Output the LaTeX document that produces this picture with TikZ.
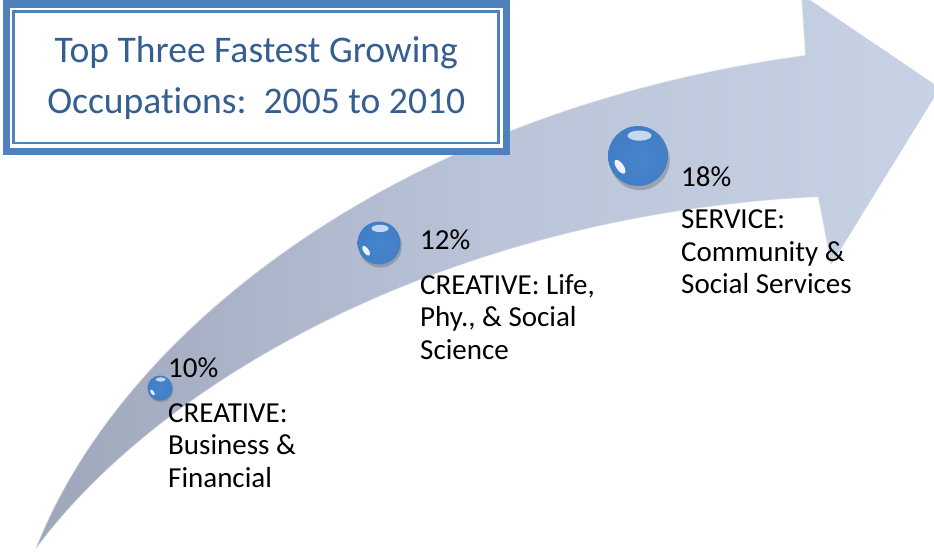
\documentclass[tikz,border=0pt]{standalone}
\usepackage{fontspec}
\setmainfont{Carlito}[Ligatures=NoCommon]
\usetikzlibrary{calc}
\definecolor{boxblue}{RGB}{79,129,189}
\definecolor{titleblue}{RGB}{54,95,145}
\definecolor{arrowdark}{RGB}{158,166,186}
\definecolor{arrowmid}{RGB}{186,196,216}
\definecolor{arrowlight}{RGB}{200,210,229}
\definecolor{balldark}{RGB}{36,86,156}
\definecolor{ballmid}{RGB}{70,132,204}
\pgfdeclareradialshading{glossy}{\pgfpoint{3bp}{-4bp}}{color(0bp)=(ballmid); color(30bp)=(ballmid!85!balldark); color(46bp)=(balldark); color(50bp)=(balldark)}
\newcommand\myTitleFont{\fontsize{37.6}{51}\selectfont}
\newcommand\myLabelFont{\fontsize{29}{32.5}\selectfont}
\newcommand\mkball[4]{%
  \fill[black!55!arrowdark, opacity=0.3] (#2+0.06*#4,#3+0.14*#4) circle[radius=#4];
  \node[glossball, minimum size={2*#4pt}] (#1) at (#2,#3) {};
  \fill[white, opacity=0.7] (#2+0.05*#4,#3-0.68*#4) ellipse[x radius=0.4*#4, y radius=0.17*#4];
  \fill[white, opacity=0.9, rotate around={35:(#2-0.6*#4,#3+0.36*#4)}] (#2-0.6*#4,#3+0.36*#4) ellipse[x radius=0.12*#4, y radius=0.27*#4];
}
\begin{document}
\begin{tikzpicture}[x=1pt,y=-1pt,
  glossball/.style={circle, inner sep=0pt, shade, shading=glossy},
  lbl/.style={anchor=base west, inner sep=0pt, font=\myLabelFont, text=black},
  titlebox/.style={draw=boxblue, line width=7pt, fill=white, outer sep=0pt,
    minimum width=500pt, minimum height=147pt, inner sep=0pt,
    text=titleblue, font=\myTitleFont, align=center},
  arrowbody/.style={left color=arrowdark, right color=arrowlight, middle color=arrowmid},
  arrowrim/.style={draw=white, opacity=0.55, line width=1.3pt, line join=round}]
\useasboundingbox (0,0) rectangle (934,554);
\clip (0,0) rectangle (934,554);
\fill[white] (0,0) rectangle (934,554);
% curved arrow
\path[arrowbody] (35,550) .. controls (120,330) and (400,110) .. (805,55)
  -- (801,-6) -- (940,88) -- (831,265) -- (818,197)
  .. controls (450,215) and (160,380) .. (35,550) -- cycle;
\path[arrowrim] (35,550) .. controls (120,330) and (400,110) .. (805,55) -- (801,-6);
\path[arrowrim, opacity=0.35] (831,265) -- (818,197) .. controls (450,215) and (160,380) .. (35,550);
% title
\node[titlebox] (title) at (256.25,77.5) {Top Three Fastest Growing\\Occupations:~~2005 to 2010};
\draw[boxblue, line width=2.6pt] ($(title.north west)+(7.3,7.5)$) rectangle ($(title.south east)+(-7.8,-8)$);
% balls
\mkball{b1}{160}{388}{12.5}
\mkball{b2}{379}{243}{21.5}
\mkball{b3}{638}{156}{30}
% labels
\node[lbl] (l1) at (168,377) {\begin{tabular}[t]{@{}l@{}}10\%\\[12.5pt]CREATIVE:\\Business \&\\Financial\end{tabular}};
\node[lbl] (l2) at (420,249) {\begin{tabular}[t]{@{}l@{}}12\%\\[12.5pt]CREATIVE: Life,\\Phy., \& Social\\Science\end{tabular}};
\node[lbl] (l3) at (681,186) {\begin{tabular}[t]{@{}l@{}}18\%\\[10pt]SERVICE:\\Community \&\\Social Services\end{tabular}};
\end{tikzpicture}
\end{document}
